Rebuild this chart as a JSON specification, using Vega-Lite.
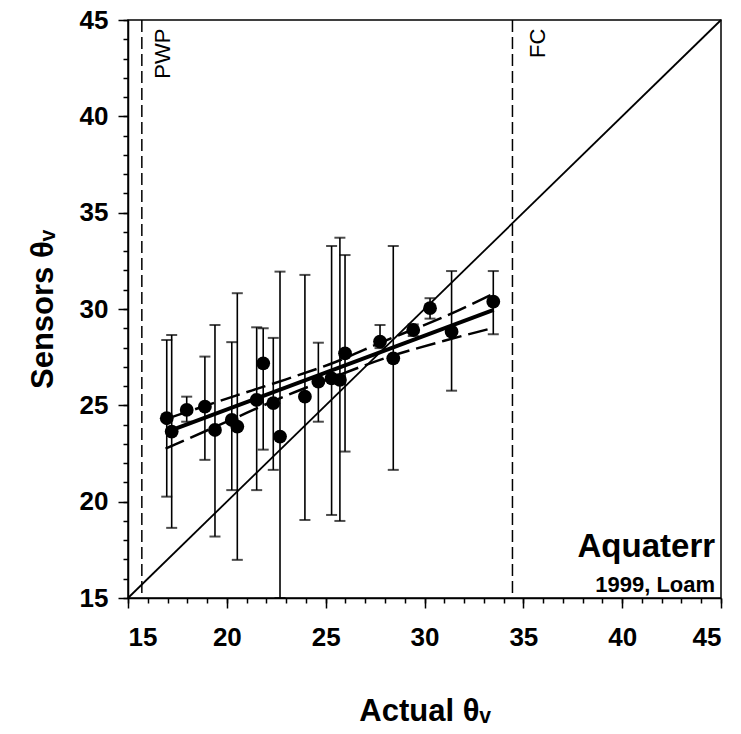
{
  "$schema": "https://vega.github.io/schema/vega-lite/v6.json",
  "width": 593,
  "height": 578,
  "autosize": "none",
  "padding": {"left": 128, "top": 20, "right": 20, "bottom": 136},
  "background": "white",
  "config": {
    "font": "Liberation Sans",
    "view": {"stroke": "black", "strokeWidth": 1.5},
    "axis": {
      "grid": false,
      "domainColor": "black",
      "domainWidth": 1.5,
      "tickColor": "black",
      "tickWidth": 1.5,
      "labelColor": "black",
      "labelFont": "Liberation Sans",
      "labelFontWeight": "bold",
      "labelFontSize": 26,
      "titleFont": "Liberation Sans",
      "titleFontWeight": "bold",
      "titleFontSize": 31,
      "titleColor": "black"
    }
  },
  "datasets": {
    "diag": [{"x": 15, "y": 15}, {"x": 45, "y": 45}],
    "pts": [
      {"x": 16.96, "y": 24.33, "lo": 20.26, "hi": 28.39},
      {"x": 17.21, "y": 23.64, "lo": 18.64, "hi": 28.65},
      {"x": 17.97, "y": 24.76, "lo": 24.15, "hi": 25.45},
      {"x": 18.89, "y": 24.93, "lo": 22.17, "hi": 27.53},
      {"x": 19.4, "y": 23.72, "lo": 18.19, "hi": 29.17},
      {"x": 20.25, "y": 24.24, "lo": 20.6, "hi": 28.28},
      {"x": 20.53, "y": 23.9, "lo": 16.98, "hi": 30.82},
      {"x": 21.51, "y": 25.28, "lo": 20.6, "hi": 29.05},
      {"x": 21.84, "y": 27.18, "lo": 22.7, "hi": 29.0},
      {"x": 22.35, "y": 25.11, "lo": 21.65, "hi": 28.5},
      {"x": 22.69, "y": 23.38, "lo": 15.0, "hi": 31.94},
      {"x": 23.95, "y": 25.45, "lo": 19.05, "hi": 31.77},
      {"x": 24.63, "y": 26.23, "lo": 24.15, "hi": 28.25},
      {"x": 25.3, "y": 26.4, "lo": 19.31, "hi": 33.27},
      {"x": 25.72, "y": 26.32, "lo": 19.0, "hi": 33.7},
      {"x": 25.98, "y": 27.7, "lo": 22.6, "hi": 32.8},
      {"x": 27.75, "y": 28.31, "lo": 27.97, "hi": 29.17},
      {"x": 28.42, "y": 27.44, "lo": 21.65, "hi": 33.27},
      {"x": 29.43, "y": 28.91, "lo": 28.6, "hi": 29.2},
      {"x": 30.28, "y": 30.04, "lo": 29.5, "hi": 30.56},
      {"x": 31.37, "y": 28.82, "lo": 25.76, "hi": 31.97},
      {"x": 33.48, "y": 30.38, "lo": 28.69, "hi": 31.97}
    ],
    "fit": [{"x": 16.9, "y": 23.6}, {"x": 33.5, "y": 29.95}],
    "upper": [
      {"x": 17.1, "y": 24.35}, {"x": 20, "y": 25.35}, {"x": 23, "y": 26.35},
      {"x": 25.5, "y": 27.25}, {"x": 28, "y": 28.35}, {"x": 31, "y": 29.6}, {"x": 33.4, "y": 30.75}
    ],
    "lower": [
      {"x": 16.9, "y": 22.75}, {"x": 20, "y": 24.15}, {"x": 23, "y": 25.5},
      {"x": 25.5, "y": 26.5}, {"x": 28, "y": 27.45}, {"x": 31, "y": 28.35}, {"x": 33.4, "y": 29.0}
    ],
    "one": [{}]
  },
  "layer": [
    {
      "data": {"name": "diag"},
      "mark": {"type": "point", "opacity": 0},
      "encoding": {
        "x": {"field": "x", "type": "quantitative", "scale": {"domain": [15, 45], "nice": false, "zero": false},
          "axis": {"orient": "bottom", "values": [15,16,17,18,19,20,21,22,23,24,25,26,27,28,29,30,31,32,33,34,35,36,37,38,39,40,41,42,43,44,45], "labels": false, "domain": false, "tickSize": 5, "title": null}},
        "y": {"field": "y", "type": "quantitative", "scale": {"domain": [15, 45], "nice": false, "zero": false},
          "axis": {"orient": "left", "values": [15,16,17,18,19,20,21,22,23,24,25,26,27,28,29,30,31,32,33,34,35,36,37,38,39,40,41,42,43,44,45], "labels": false, "domain": false, "tickSize": 5, "title": null}}
      }
    },
    {
      "data": {"name": "diag"},
      "mark": {"type": "line", "color": "black", "strokeWidth": 1.8},
      "encoding": {
        "x": {"field": "x", "type": "quantitative", "scale": {"domain": [15, 45], "nice": false, "zero": false},
          "axis": {"orient": "bottom", "values": [15, 20, 25, 30, 35, 40, 45], "tickSize": 10, "labelPadding": 16, "title": "Actual θᵥ", "titlePadding": 46}},
        "y": {"field": "y", "type": "quantitative", "scale": {"domain": [15, 45], "nice": false, "zero": false},
          "axis": {"orient": "left", "values": [15, 20, 25, 30, 35, 40, 45], "tickSize": 10, "labelPadding": 10, "title": "Sensors θᵥ", "titlePadding": 20}}
      }
    },
    {
      "data": {"name": "one"},
      "mark": {"type": "rule", "color": "black", "strokeWidth": 1.5, "strokeDash": [12, 5]},
      "encoding": {"x": {"datum": 15.7, "type": "quantitative", "axis": null}}
    },
    {
      "data": {"name": "one"},
      "mark": {"type": "rule", "color": "black", "strokeWidth": 1.5, "strokeDash": [12, 5]},
      "encoding": {"x": {"datum": 34.45, "type": "quantitative", "axis": null}}
    },
    {
      "data": {"name": "pts"},
      "mark": {"type": "rule", "color": "black", "strokeWidth": 1.6},
      "encoding": {
        "x": {"field": "x", "type": "quantitative", "axis": null},
        "y": {"field": "lo", "type": "quantitative", "axis": null},
        "y2": {"field": "hi"}
      }
    },
    {
      "data": {"name": "pts"},
      "mark": {"type": "tick", "orient": "horizontal", "color": "black", "thickness": 2, "size": 11},
      "encoding": {
        "x": {"field": "x", "type": "quantitative", "axis": null},
        "y": {"field": "hi", "type": "quantitative", "axis": null}
      }
    },
    {
      "data": {"name": "pts"},
      "mark": {"type": "tick", "orient": "horizontal", "color": "black", "thickness": 2, "size": 11},
      "encoding": {
        "x": {"field": "x", "type": "quantitative", "axis": null},
        "y": {"field": "lo", "type": "quantitative", "axis": null}
      }
    },
    {
      "data": {"name": "fit"},
      "mark": {"type": "line", "color": "black", "strokeWidth": 4},
      "encoding": {
        "x": {"field": "x", "type": "quantitative", "axis": null},
        "y": {"field": "y", "type": "quantitative", "axis": null}
      }
    },
    {
      "data": {"name": "upper"},
      "mark": {"type": "line", "color": "black", "strokeWidth": 2.5, "strokeDash": [20, 7], "interpolate": "monotone"},
      "encoding": {
        "x": {"field": "x", "type": "quantitative", "axis": null},
        "y": {"field": "y", "type": "quantitative", "axis": null}
      }
    },
    {
      "data": {"name": "lower"},
      "mark": {"type": "line", "color": "black", "strokeWidth": 2.5, "strokeDash": [20, 7], "interpolate": "monotone"},
      "encoding": {
        "x": {"field": "x", "type": "quantitative", "axis": null},
        "y": {"field": "y", "type": "quantitative", "axis": null}
      }
    },
    {
      "data": {"name": "pts"},
      "mark": {"type": "circle", "color": "black", "opacity": 1, "size": 190},
      "encoding": {
        "x": {"field": "x", "type": "quantitative", "axis": null},
        "y": {"field": "y", "type": "quantitative", "axis": null}
      }
    },
    {
      "data": {"name": "one"},
      "mark": {"type": "text", "text": "PWP", "angle": 270, "align": "right", "baseline": "middle", "fontSize": 22, "color": "black"},
      "encoding": {"x": {"datum": 16.75, "type": "quantitative", "axis": null}, "y": {"datum": 44.55, "type": "quantitative", "axis": null}}
    },
    {
      "data": {"name": "one"},
      "mark": {"type": "text", "text": "FC", "angle": 270, "align": "right", "baseline": "middle", "fontSize": 22, "color": "black"},
      "encoding": {"x": {"datum": 35.75, "type": "quantitative", "axis": null}, "y": {"datum": 44.55, "type": "quantitative", "axis": null}}
    },
    {
      "data": {"name": "one"},
      "mark": {"type": "text", "text": "Aquaterr", "align": "right", "baseline": "alphabetic", "fontSize": 33, "fontWeight": "bold", "color": "black"},
      "encoding": {"x": {"datum": 44.7, "type": "quantitative", "axis": null}, "y": {"datum": 17.15, "type": "quantitative", "axis": null}}
    },
    {
      "data": {"name": "one"},
      "mark": {"type": "text", "text": "1999, Loam", "align": "right", "baseline": "alphabetic", "fontSize": 22, "fontWeight": "bold", "color": "black"},
      "encoding": {"x": {"datum": 44.7, "type": "quantitative", "axis": null}, "y": {"datum": 15.3, "type": "quantitative", "axis": null}}
    }
  ],
  "resolve": {"axis": {"x": "independent", "y": "independent"}}
}
